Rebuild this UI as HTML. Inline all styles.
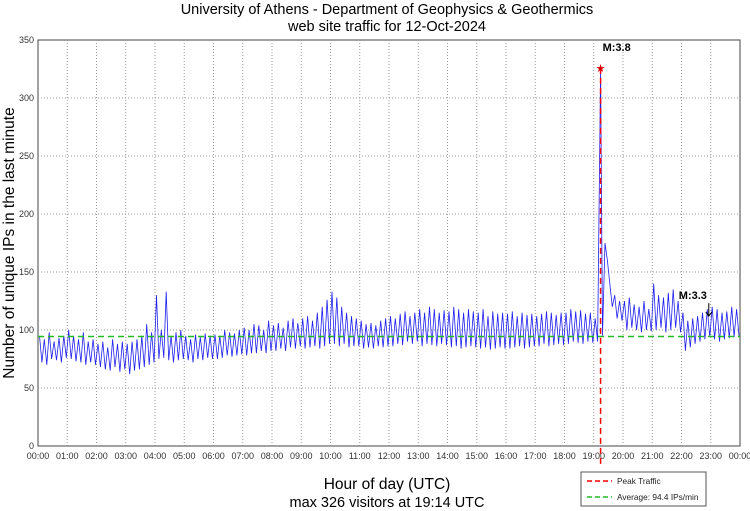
<!DOCTYPE html>
<html><head><meta charset="utf-8"><style>
body{margin:0;background:#fff;}
svg{display:block;font-family:"Liberation Sans",sans-serif;}
</style></head><body>
<svg id="chart" width="750" height="511">
<text x="387" y="14" text-anchor="middle" font-size="14.5">University of Athens - Department of Geophysics &amp; Geothermics</text>
<text x="387" y="31" text-anchor="middle" font-size="14.5">web site traffic for 12-Oct-2024</text>
<text transform="translate(14,243) rotate(-90)" text-anchor="middle" font-size="15.5">Number of unique IPs in the last minute</text>
<text x="387" y="489" text-anchor="middle" font-size="15.5">Hour of day (UTC)</text>
<text x="387" y="507" text-anchor="middle" font-size="14.5">max 326 visitors at 19:14 UTC</text>
<g id="grid"></g><g id="series"></g><g id="overlay"></g>
<g>
<rect x="581" y="472" width="125" height="34" fill="#fff" stroke="#555" stroke-width="1"/>
<line x1="587" y1="481" x2="612" y2="481" stroke="#f00" stroke-width="1.5" stroke-dasharray="5,3"/>
<text x="617" y="484" font-size="8.3" fill="#222">Peak Traffic</text>
<line x1="587" y1="497" x2="612" y2="497" stroke="#2b2" stroke-width="1.5" stroke-dasharray="5,3"/>
<text x="617" y="500" font-size="8.3" fill="#222">Average: 94.4 IPs/min</text>
</g>
</svg>
<script>
const yTicks=[0,50,100,150,200,250,300,350];
const xTickHours=[0,1,2,3,4,5,6,7,8,9,10,11,12,13,14,15,16,17,18,19,20,21,22,23,24];
const binHigh=[95,92,98,90,93,95,100,95,92,98,90,92,88,90,85,92,88,90,88,90,92,95,105,98,130,100,133,95,98,100,95,92,96,94,97,95,96,95,100,98,97,100,102,100,105,104,100,108,104,106,102,108,110,106,110,112,108,115,120,126,133,128,120,115,112,110,108,105,106,104,108,110,112,110,114,116,112,115,118,115,120,118,115,117,116,120,118,115,118,116,115,118,112,116,114,115,114,116,112,115,113,114,112,114,116,115,113,115,115,118,116,117,114,115,110,326,175,140,130,125,125,128,122,120,125,118,140,130,128,132,135,125,115,108,110,112,115,118,120,118,115,116,120,118];
const binLow=[72,70,75,74,72,76,75,73,72,70,72,70,68,66,65,68,64,66,62,65,66,68,70,72,75,76,74,72,74,75,74,72,75,74,76,75,75,76,78,77,78,79,78,80,80,82,80,82,82,84,82,85,84,86,84,85,86,84,86,88,88,86,88,85,86,86,84,85,84,86,85,86,86,88,87,90,88,90,86,88,87,86,88,87,85,86,84,85,86,85,84,85,83,84,85,84,84,85,86,84,85,86,86,88,86,87,88,87,88,90,89,88,90,89,90,95,160,120,110,108,100,102,100,98,100,99,100,102,98,100,102,98,82,85,88,90,92,94,92,90,92,93,94,95];
const average=94.4, peakMinute=19*60+14, peakValue=326, secondMinute=22*60+56, secondValue=112;
const X0=38,X1=740,Y0=446,Y1=40;
const xs=m=>X0+(X1-X0)*m/1440, ys=v=>Y0-(Y0-Y1)*v/350;
const NS="http://www.w3.org/2000/svg";
function mk(tag,attrs,parent){const e=document.createElementNS(NS,tag);for(const k in attrs)e.setAttribute(k,attrs[k]);parent.appendChild(e);return e;}
const grid=document.getElementById('grid'),series=document.getElementById('series'),ov=document.getElementById('overlay');
mk('rect',{x:X0,y:Y1,width:X1-X0,height:Y0-Y1,fill:'#fff',stroke:'#444','stroke-width':1},grid);
yTicks.forEach(v=>{
 if(v>0&&v<350){const l=mk('line',{x1:X0,x2:X1,y1:ys(v),y2:ys(v),stroke:'#999','stroke-dasharray':'1,2'},grid);
 }
 const t=mk('text',{x:X0-4,y:ys(v)+3,'text-anchor':'end','font-size':9,fill:'#333'},grid);t.textContent=v;
 
});
xTickHours.forEach(h=>{
 const x=xs(h*60);
 if(h>0&&h<24){const l=mk('line',{x1:x,x2:x,y1:Y1,y2:Y0,stroke:'#999','stroke-dasharray':'1,2'},grid);
 }
 const t=mk('text',{x:x,y:Y0+13,'text-anchor':'middle','font-size':9,fill:'#333'},grid);
 t.textContent=String(h%24).padStart(2,'0')+':00';
 
});
let pts=[];
binHigh.forEach((hv,i)=>{
 const peakBin=Math.floor(peakMinute/10);
 const hm=i===peakBin?peakMinute:i*10+3;
 pts.push(xs(hm).toFixed(1)+','+ys(hv).toFixed(1));
 pts.push(xs(i*10+8).toFixed(1)+','+ys(binLow[i]).toFixed(1));
});
const line=mk('polyline',{points:pts.join(' '),fill:'none',stroke:'#2020f0','stroke-width':0.8},series);


const avg=mk('line',{x1:X0,x2:X1,y1:ys(average),y2:ys(average),stroke:'#22bb22','stroke-width':1.5,'stroke-dasharray':'6,4'},ov);


const pk=mk('line',{x1:xs(peakMinute),x2:xs(peakMinute),y1:ys(peakValue),y2:466,stroke:'#f00','stroke-width':1.5,'stroke-dasharray':'6,4'},ov);


const st=mk('text',{x:xs(peakMinute),y:ys(peakValue)+4,'text-anchor':'middle','font-size':11,fill:'#d00'},ov);st.textContent='★';


const m1=mk('text',{x:xs(peakMinute)+2,y:ys(peakValue)-17,'font-size':11,'font-weight':'bold'},ov);m1.textContent='M:3.8';


const m2=mk('text',{x:xs(secondMinute)-30,y:ys(secondValue)-17,'font-size':11,'font-weight':'bold'},ov);m2.textContent='M:3.3';


const ar=mk('path',{d:`M${xs(secondMinute)},${ys(secondValue)-13} V${ys(secondValue)} M${xs(secondMinute)-3},${ys(secondValue)-4} L${xs(secondMinute)},${ys(secondValue)} L${xs(secondMinute)+3},${ys(secondValue)-4}`,stroke:'#000',fill:'none','stroke-width':1},ov);


</script>
</body></html>
